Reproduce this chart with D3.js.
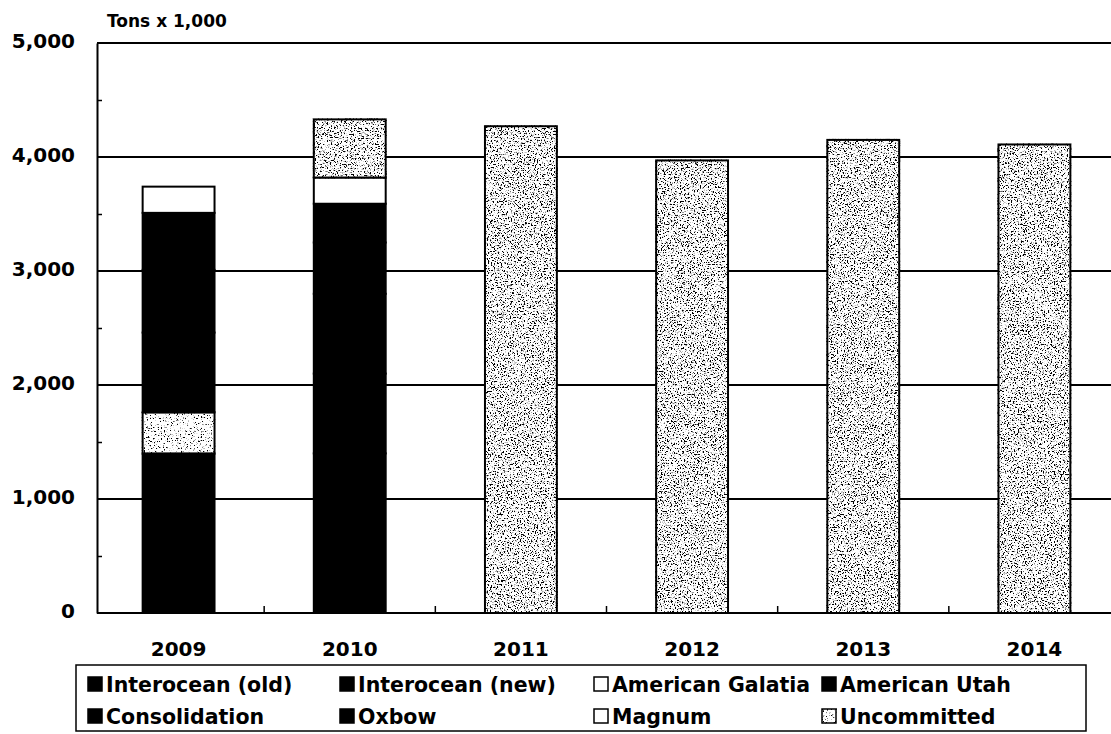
<!DOCTYPE html>
<html>
<head>
<meta charset="utf-8">
<script src="https://cdn.jsdelivr.net/npm/d3@7"></script>
<style>
  html, body { margin: 0; padding: 0; background: #fff; }
  svg { display: block; font-family: "DejaVu Sans", sans-serif; font-weight: bold; }
</style>
</head>
<body>
<svg id="chart" width="1111" height="734"></svg>
<script>
// Coal supply commitments by year (tons x 1,000)
const years = ["2009", "2010", "2011", "2012", "2013", "2014"];
const interoceanOld   = [1400, 1400,    0,    0,    0,    0];
const interoceanNew   = [   0,  700,    0,    0,    0,    0];
const americanGalatia = [ 360,    0,    0,    0,    0,    0];
const americanUtah    = [ 700,  700,    0,    0,    0,    0];
const consolidation   = [ 550,  450,    0,    0,    0,    0];
const oxbow           = [ 500,  340,    0,    0,    0,    0];
const magnum          = [ 230,  230,    0,    0,    0,    0];
const uncommitted     = [   0,  510, 4270, 3970, 4150, 4110];

const seriesNames = ["Interocean (old)", "Interocean (new)", "American Galatia", "American Utah",
                     "Consolidation", "Oxbow", "Magnum", "Uncommitted"];
const seriesValues = [interoceanOld, interoceanNew, americanGalatia, americanUtah,
                      consolidation, oxbow, magnum, uncommitted];
const yTicks = [0, 1000, 2000, 3000, 4000, 5000];
const yMinorTicks = [500, 1500, 2500, 3500, 4500];

// fill style per series
const styles = {
  "Interocean (old)": { fill: "#000" },
  "Interocean (new)": { fill: "#000" },
  "American Galatia": { fill: "#fff", filter: "url(#speckleLight)" },
  "American Utah":    { fill: "#000" },
  "Consolidation":    { fill: "#000" },
  "Oxbow":            { fill: "#000" },
  "Magnum":           { fill: "#fff" },
  "Uncommitted":      { fill: "#fff", filter: "url(#speckle)" }
};

const table = years.map((yr, i) => {
  const row = { year: yr };
  seriesNames.forEach((s, k) => row[s] = seriesValues[k][i]);
  return row;
});

const svg = d3.select("#chart");

// grain filters for the dotted fills
const defs = svg.append("defs");
function grain(id, slope, offset, freq, seed) {
  const f = defs.append("filter").attr("id", id)
    .attr("x", "-0.1").attr("y", "-0.1").attr("width", "1.2").attr("height", "1.2");
  f.append("feTurbulence").attr("type", "fractalNoise").attr("baseFrequency", freq)
    .attr("numOctaves", 3).attr("seed", seed).attr("result", "noise");
  f.append("feColorMatrix").attr("in", "noise").attr("type", "matrix")
    .attr("values", `0 0 0 0 0  0 0 0 0 0  0 0 0 0 0  ${slope} 0 0 0 ${offset}`)
    .attr("result", "dots");
  f.append("feComposite").attr("in", "dots").attr("in2", "SourceGraphic")
    .attr("operator", "in").attr("result", "clipped");
  const m = f.append("feMerge");
  m.append("feMergeNode").attr("in", "SourceGraphic");
  m.append("feMergeNode").attr("in", "clipped");
}
grain("speckle", 9, -4.8, 0.7, 7);
grain("speckleLight", 9, -5.35, 0.7, 11);

const x = d3.scaleBand().domain(years).range([93, 1120])
  .paddingInner(0.58).paddingOuter(0.29);
const y = d3.scaleLinear().domain([0, 5000]).range([613, 43]);
const axisX = 97, rightEdge = 1111;

// horizontal gridlines
svg.append("g").selectAll("line").data(yTicks.filter(d => d > 0)).join("line")
  .attr("x1", axisX).attr("x2", rightEdge)
  .attr("y1", d => y(d)).attr("y2", d => y(d))
  .attr("stroke", "#000").attr("stroke-width", 2);

// stacked bars
const stacked = d3.stack().keys(seriesNames)(table);
const layers = svg.append("g").selectAll("g").data(stacked).join("g")
  .attr("fill", d => styles[d.key].fill)
  .attr("filter", d => styles[d.key].filter || null);
layers.selectAll("rect").data(d => d.filter(p => p[1] - p[0] > 0)).join("rect")
  .attr("x", d => x(d.data.year))
  .attr("width", x.bandwidth())
  .attr("y", d => y(d[1]))
  .attr("height", d => y(d[0]) - y(d[1]))
  .attr("stroke", "#000").attr("stroke-width", 2);

// y axis with labels
const yAxis = svg.append("g").attr("transform", `translate(${axisX},0)`)
  .call(d3.axisLeft(y).tickValues(yTicks).tickSize(0).tickPadding(22)
    .tickFormat(d3.format(",")));
yAxis.select(".domain").attr("stroke-width", 2);
yAxis.selectAll("text").attr("font-size", 20).attr("font-family", "DejaVu Sans")
  .attr("font-weight", "bold").attr("fill", "#000").attr("dy", "0.2em");

// minor ticks inside the y axis
svg.append("g").attr("transform", `translate(${axisX},0)`)
  .call(d3.axisRight(y).tickValues(yMinorTicks).tickSize(5).tickFormat(""))
  .call(g => g.select(".domain").remove())
  .selectAll("line").attr("stroke-width", 1.5);

// baseline and category labels
svg.append("line").attr("x1", axisX).attr("x2", rightEdge)
  .attr("y1", y(0)).attr("y2", y(0)).attr("stroke", "#000").attr("stroke-width", 2);
const xAxis = svg.append("g").attr("transform", `translate(0,${y(0)})`)
  .call(d3.axisBottom(x).tickSize(0).tickPadding(29));
xAxis.select(".domain").remove();
xAxis.selectAll("text").attr("font-size", 20).attr("font-family", "DejaVu Sans")
  .attr("font-weight", "bold").attr("fill", "#000");

// category boundary ticks
const gap = (x.step() - x.bandwidth()) / 2;
svg.append("g").selectAll("line").data(years.slice(1)).join("line")
  .attr("x1", d => x(d) - gap).attr("x2", d => x(d) - gap)
  .attr("y1", y(0)).attr("y2", y(0) - 7)
  .attr("stroke", "#000").attr("stroke-width", 1.5);

// unit label
svg.append("text").attr("x", 107).attr("y", 27)
  .attr("font-size", 17).text("Tons x 1,000");

// legend
svg.append("rect").attr("x", 76).attr("y", 665).attr("width", 1010).attr("height", 66)
  .attr("fill", "#fff").attr("stroke", "#000").attr("stroke-width", 1.5);
const legendCols = [88, 340, 594, 822];
const legendRows = [692, 724];
const legendSwatch = {
  "American Galatia": { fill: "#fff" },
  "Uncommitted": { fill: "#fff", filter: "url(#speckleLight)" }
};
const legendItems = svg.append("g").selectAll("g").data(seriesNames).join("g")
  .attr("transform", (d, i) => `translate(${legendCols[i % 4]},${legendRows[Math.floor(i / 4)]})`);
legendItems.append("rect")
  .attr("x", 0).attr("y", -15).attr("width", 14).attr("height", 14)
  .attr("fill", d => (legendSwatch[d] || styles[d]).fill)
  .attr("filter", d => (legendSwatch[d] || styles[d]).filter || null)
  .attr("stroke", "#000").attr("stroke-width", 1.5);
legendItems.append("text").attr("x", 18).attr("y", 0)
  .attr("font-size", 20.5).text(d => d);
</script>
</body>
</html>
